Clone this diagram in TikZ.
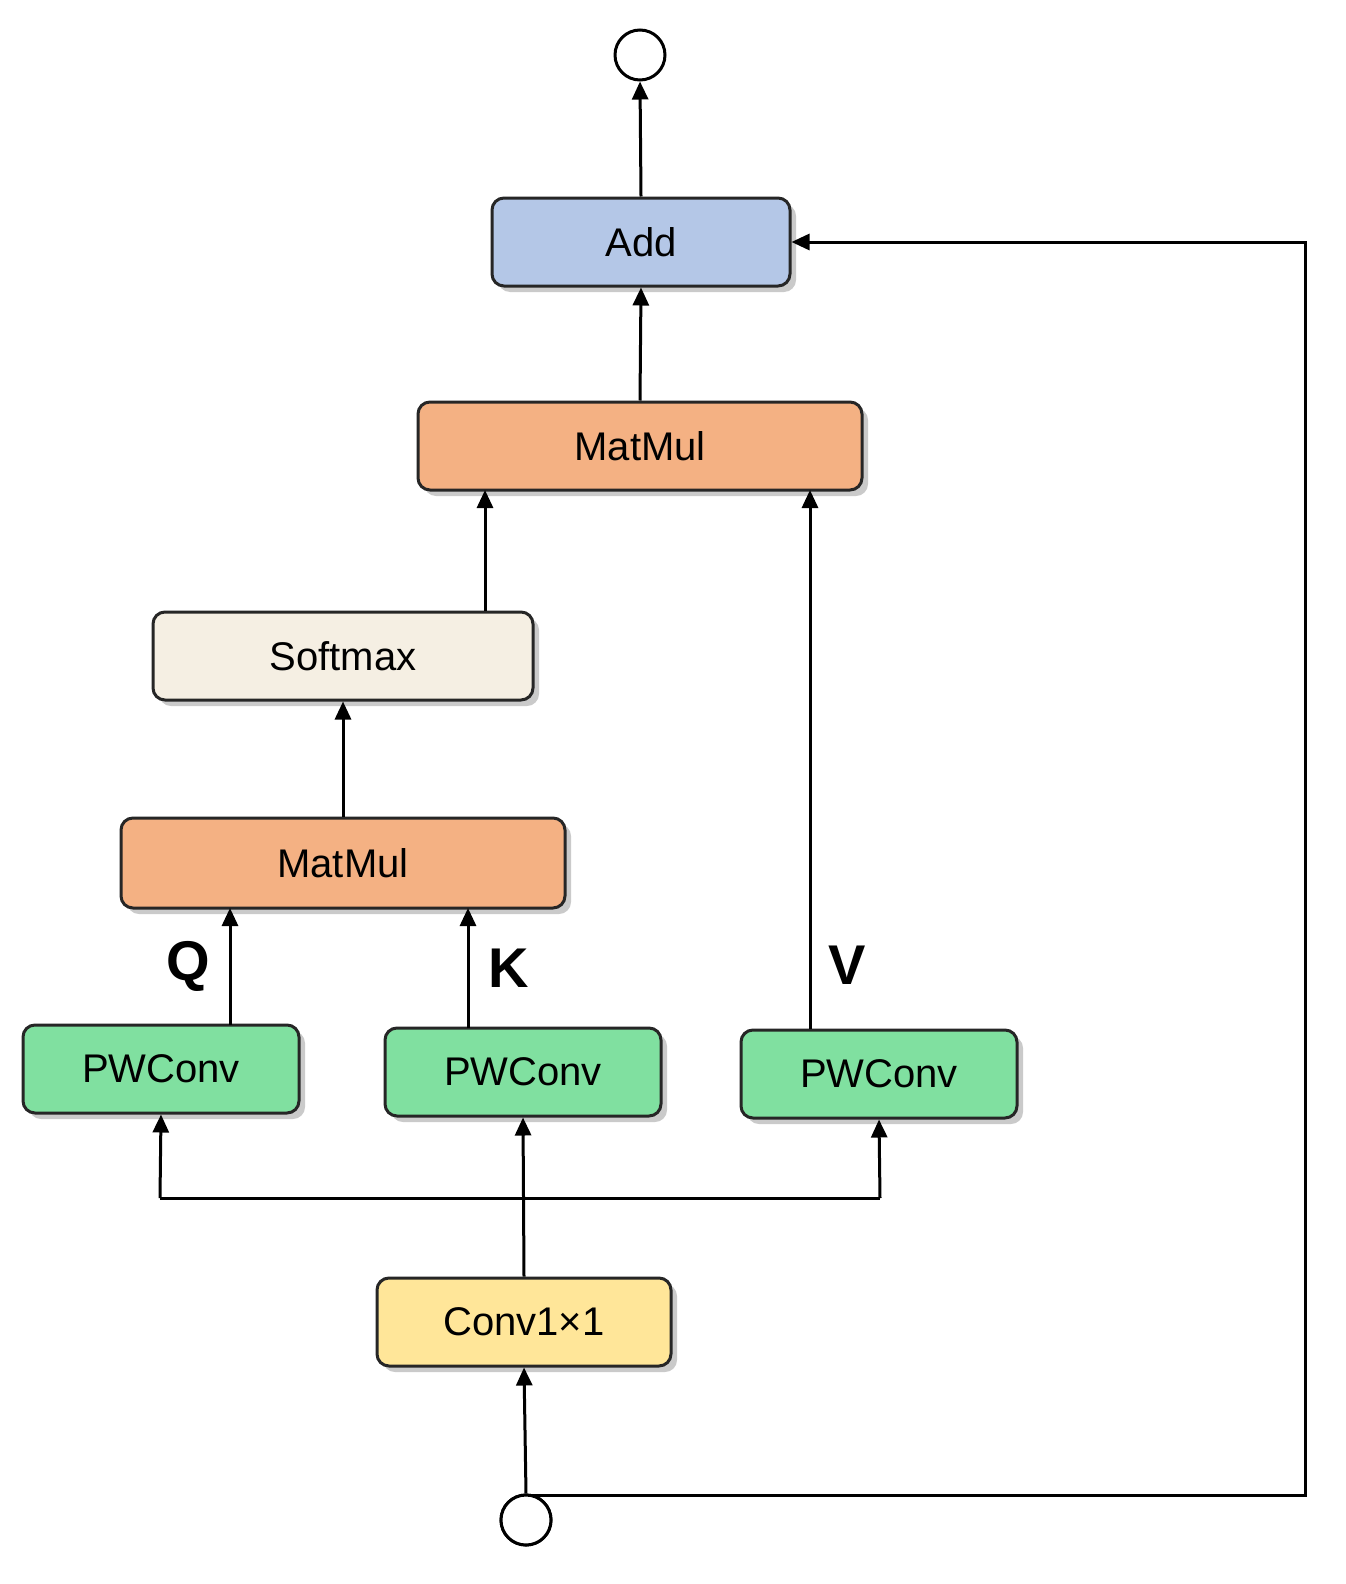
\documentclass[tikz,border=0pt]{standalone}
\usepackage{fontspec}
\setmainfont{Liberation Sans}
\usetikzlibrary{shadows,arrows.meta}
\begin{document}
\begin{tikzpicture}[x=0.5pt,y=-0.5pt,
 box/.style={draw=black!85,line width=1.5pt,rounded corners=6pt,font=\fontsize{20}{24}\selectfont,
   drop shadow={shadow xshift=3pt,shadow yshift=-3pt,opacity=0.35,fill=black!60}},
 circ/.style={draw,circle,line width=1.5pt,minimum size=25pt,inner sep=0pt,fill=white},
 arr/.style={line width=1.5pt,-{Triangle[length=9pt,width=8pt]}},
 ln/.style={line width=1.5pt},
 lab/.style={font=\bfseries\fontsize{28}{32}\selectfont}]
\useasboundingbox (0,0) rectangle (1345,1584);
\node[circ] (out) at (640,55) {};
\node[circ] (in) at (526,1520) {};
\node[box,fill={rgb,255:red,180;green,199;blue,231},minimum width=149pt,minimum height=44pt] (add) at (641,242) {Add};
\node[box,fill={rgb,255:red,244;green,177;blue,131},minimum width=222pt,minimum height=44pt] (mm1) at (640,446) {MatMul};
\node[box,fill={rgb,255:red,245;green,239;blue,227},minimum width=190pt,minimum height=44pt] (sm) at (343,656) {Softmax};
\node[box,fill={rgb,255:red,244;green,177;blue,131},minimum width=222pt,minimum height=45pt] (mm2) at (343,863) {MatMul};
\node[box,fill={rgb,255:red,128;green,224;blue,160},minimum width=138pt,minimum height=44pt] (pw1) at (161,1069) {PWConv};
\node[box,fill={rgb,255:red,128;green,224;blue,160},minimum width=138pt,minimum height=44pt] (pw2) at (523,1072) {PWConv};
\node[box,fill={rgb,255:red,128;green,224;blue,160},minimum width=138pt,minimum height=44pt] (pw3) at (879,1074) {PWConv};
\node[box,fill={rgb,255:red,255;green,230;blue,153},minimum width=147pt,minimum height=44pt] (conv) at (524,1322) {Conv1×1};
\coordinate (jl) at (160,1198);
\coordinate (jr) at (880,1198);
\coordinate (c1) at (1305,1495);
\coordinate (c2) at (1305,242);
\draw[arr] (add.north) -- (out.south);
\draw[arr] (mm1.north) -- (add.south);
\draw[arr] (sm.north -| 485,0) -- (485,490);
\draw[arr] (pw3.north -| 810,0) -- (810,490);
\draw[arr] (mm2.north) -- (sm.south);
\draw[arr] (230,1025) -- (230,908) node[lab,pos=0.5,left=6pt] (q) {Q};
\draw[arr] (468,1028) -- (468,908) node[lab,pos=0.5,right=6pt] (k) {K};
\node[lab] (v) at (847,965) {V};
\draw[arr] (conv.north) -- (pw2.south);
\draw[ln] (jl) -- (jr);
\draw[arr] (jl) -- (pw1.south);
\draw[arr] (jr) -- (pw3.south);
\draw[arr] (in.north) -- (conv.south);
\draw[arr] (526,1495) -- (c1) -- (c2) -- (add.east);
\node[circ] at (526,1520) {};
\end{tikzpicture}
\end{document}
